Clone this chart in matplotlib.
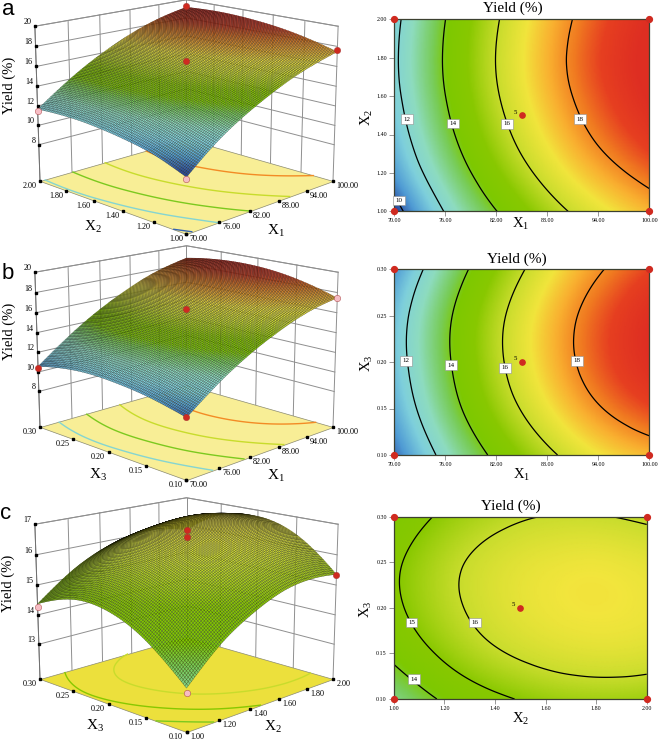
import numpy as np
import matplotlib
matplotlib.use("Agg")
import matplotlib.pyplot as plt
from matplotlib.colors import LinearSegmentedColormap, Normalize
from matplotlib.tri import Triangulation, CubicTriInterpolator
from mpl_toolkits.mplot3d import proj3d
from mpl_toolkits.mplot3d.art3d import Poly3DCollection

plt.rcParams['font.family'] = ['Liberation Serif', 'DejaVu Serif']
plt.rcParams['mathtext.fontset'] = 'custom'
plt.rcParams['mathtext.rm'] = 'Liberation Serif'
plt.rcParams['mathtext.default'] = 'rm'

W, H = 658, 741
X1_TICKS = [70, 76, 82, 88, 94, 100]
X2_TICKS = [1.0, 1.2, 1.4, 1.6, 1.8, 2.0]
X3_TICKS = [0.10, 0.15, 0.20, 0.25, 0.30]

# yield at the tick crossings (rows: y axis, columns: x axis)
YIELD_A = [
    [9.50, 12.06, 13.97, 15.48, 16.63, 17.47],
    [10.64, 12.96, 14.87, 16.38, 17.53, 18.32],
    [11.28, 13.60, 15.51, 17.02, 18.15, 18.90],
    [11.66, 13.98, 15.89, 17.40, 18.50, 19.22],
    [11.79, 14.11, 16.02, 17.53, 18.63, 19.32],
    [11.66, 13.98, 15.89, 17.40, 18.50, 19.19],
]
YIELD_B = [
    [10.08, 12.39, 14.28, 15.74, 16.84, 17.46],
    [10.93, 13.30, 15.26, 16.78, 17.92, 18.60],
    [11.34, 13.74, 15.73, 17.29, 18.44, 19.15],
    [11.27, 13.69, 15.68, 17.25, 18.41, 19.14],
    [10.56, 13.00, 15.04, 16.66, 17.89, 18.66],
]
YIELD_C = [
    [13.15, 14.13, 14.80, 15.25, 15.42, 15.35],
    [14.22, 15.17, 15.88, 16.31, 16.49, 16.41],
    [14.80, 15.71, 16.37, 16.77, 16.91, 16.79],
    [14.84, 15.71, 16.33, 16.68, 16.79, 16.62],
    [14.37, 15.17, 15.72, 16.02, 16.05, 15.84],
]
Z_TICKS_AB = [8, 10, 12, 14, 16, 18, 20]
Z_TICKS_C = [13, 14, 15, 16, 17]
LEVELS_A = [10, 12, 14, 16, 18]
LEVELS_B = [12, 14, 16, 18]
LEVELS_C = [14, 15, 16]

# design points: x, y, yield, colour key
POINTS_A = [(100, 2.0, 19.3, 'r'), (85, 1.5, 16.5, 'r'), (100, 1.0, 17.6, 'r'),
            (70, 2.0, 11.5, 'p'), (70, 1.0, 9.3, 'p')]
POINTS_B = [(85, 0.20, 16.4, 'r'), (100, 0.10, 17.5, 'p'),
            (70, 0.30, 10.4, 'r'), (70, 0.10, 10.1, 'r')]
POINTS_C = [(1.5, 0.20, 16.8, 'r'), (1.5, 0.20, 16.6, 'r'), (2.0, 0.10, 15.35, 'r'),
            (1.0, 0.30, 14.25, 'p'), (1.0, 0.10, 13.0, 'p')]

STOP_Z = [9.7, 10.6, 11.6, 12.6, 13.6, 14.2, 15.0, 16.0, 16.9, 17.6, 18.2, 18.7, 19.2]
STOP_C = ['#2a4a9e', '#4f9ad4', '#7fd0dc', '#8edcc0', '#78cc58', '#7ec800', '#88c800',
          '#c8dc2c', '#f2e53c', '#f9b030', '#f07a20', '#e63f20', '#de2e22']
Z_MIN, Z_MAX = STOP_Z[0], STOP_Z[-1]
norm = Normalize(Z_MIN, Z_MAX)
cmap = LinearSegmentedColormap.from_list(
    'yield', [((z - Z_MIN) / (Z_MAX - Z_MIN), c) for z, c in zip(STOP_Z, STOP_C)], N=512)

RED, PINK = '#cf2a20', '#f6bcc4'
GRID = '#8f8f8f'
ELEV, FOCAL, BOXZ = 15.0, 0.68, 0.76
MESH = 101

fig = plt.figure(figsize=(W / 100, H / 100), dpi=100)


def px(x, y):
    return x / W, 1 - y / H


def ftext(x, y, s, **kw):
    kw.setdefault('ha', 'center')
    kw.setdefault('va', 'center')
    fig.text(*px(x, y), s, **kw)


def smooth(xv, yv, Z, n):
    X, Y = np.meshgrid(xv, yv)
    tri = Triangulation(X.ravel(), Y.ravel())
    it = CubicTriInterpolator(tri, np.asarray(Z, float).ravel(), kind='min_E')
    ex = (xv[-1] - xv[0]) * 1e-7
    ey = (yv[-1] - yv[0]) * 1e-7
    xf = np.linspace(xv[0] + ex, xv[-1] - ex, n)
    yf = np.linspace(yv[0] + ey, yv[-1] - ey, n)
    Xf, Yf = np.meshgrid(xf, yf)
    return Xf, Yf, np.ma.filled(it(Xf, Yf), np.nan)


def surface3d(xv, yv, Z, zfloor, ztop, zticks, levels, points, floor_color, left, right,
              edge_alpha=0.72):
    ax = fig.add_axes([0, 0, 0.5, 0.5], projection='3d', computed_zorder=False)
    ax.set_facecolor('none')
    ax.set_axis_off()
    x0, x1, y0, y1 = xv[0], xv[-1], yv[0], yv[-1]
    ax.set_xlim(x0, x1)
    ax.set_ylim(y0, y1)
    ax.set_zlim(zfloor, ztop)
    ax.set_proj_type('persp', focal_length=FOCAL)
    ax.view_init(elev=ELEV, azim=-135)
    ax.set_box_aspect((1, 1, BOXZ))

    # place the box on the page from its floor corners
    M = ax.get_proj()

    def proj(x, y, z):
        a, b, _ = proj3d.proj_transform(x, y, z, M)
        return np.array([a, b])
    pl, pr = proj(x0, y1, zfloor), proj(x1, y0, zfloor)
    xlim2 = ax.viewLim.intervalx
    ylim2 = ax.viewLim.intervaly
    scale = (right[0] - left[0]) / (pr[0] - pl[0])
    size = scale * (xlim2[1] - xlim2[0])
    ox = left[0] - (pl[0] - xlim2[0]) * scale
    oy = (H - left[1]) - (pl[1] - ylim2[0]) * scale
    ax.set_position([ox / W, oy / H, size / W, size / H])

    def to_px(x, y, z):
        p = proj(x, y, z)
        return ox + (p[0] - xlim2[0]) * scale, H - (oy + (p[1] - ylim2[0]) * scale)

    # walls
    wl = dict(color=GRID, lw=0.7, zorder=1)
    for t in xv:
        ax.plot([t, t], [y1, y1], [zfloor, ztop], **wl)
    for t in yv:
        ax.plot([x1, x1], [t, t], [zfloor, ztop], **wl)
    for z in zticks:
        ax.plot([x0, x1, x1], [y1, y1, y0], [z, z, z], **wl)
    ax.plot([x0, x1, x1], [y1, y1, y0], [ztop] * 3, **wl)
    ax.plot([x0, x0], [y1, y1], [zfloor, ztop], color='#707070', lw=0.7, zorder=1)

    # floor
    floor = Poly3DCollection([[(x0, y0, zfloor), (x1, y0, zfloor), (x1, y1, zfloor), (x0, y1, zfloor)]],
                             facecolors=floor_color, edgecolors='#8a8a70', linewidths=0.5, zorder=2)
    ax.add_collection3d(floor)

    Xf, Yf, Zf = smooth(xv, yv, Z, MESH)
    ax.contour(Xf, Yf, Zf, levels=levels, zdir='z', offset=zfloor, cmap=cmap, norm=norm,
               linewidths=1.0, zorder=3)

    surf = ax.plot_surface(Xf, Yf, Zf, rstride=1, cstride=1, facecolors=cmap(norm(Zf)),
                           shade=False, zorder=5)
    surf.set_edgecolor((0, 0, 0, edge_alpha))
    surf.set_linewidth(0.18)

    # ticks
    ax.plot(list(xv), [y0] * len(xv), [zfloor] * len(xv), ls='', marker='s', ms=1.5, color='k', zorder=4)
    ax.plot([x0] * len(yv), list(yv), [zfloor] * len(yv), ls='', marker='s', ms=1.5, color='k', zorder=4)
    ax.plot([x0] * len(zticks), [y1] * len(zticks), zticks, ls='', marker='s', ms=1.5, color='k', zorder=4)
    for t in xv:
        a, b = to_px(t, y0, zfloor)
        ftext(a + 3.5, b + 5, f'{t:.2f}', fontsize=5.9, ha='left')
    for t in yv:
        a, b = to_px(x0, t, zfloor)
        ftext(a - 3.5, b + 5, f'{t:.2f}', fontsize=5.9, ha='right')
    for z in zticks:
        a, b = to_px(x0, y1, z)
        ftext(a - 3.5, b - 4, f'{z}', fontsize=5.9, ha='right')

    for x, y, z, k in points:
        ax.plot([x], [y], [z], ls='', marker='o', ms=4.6, mfc=RED if k == 'r' else PINK,
                mec='#a03030', mew=0.3, zorder=8)
    return ax


def contour2d(rect, xv, yv, Z, levels, labels, xlabel, ylabel, title_xy, xlabel_xy, ylabel_xy):
    l, t, r, b = rect
    ax = fig.add_axes([l / W, 1 - b / H, (r - l) / W, (b - t) / H])
    Xf, Yf, Zf = smooth(xv, yv, Z, 201)
    ax.pcolormesh(Xf, Yf, Zf, cmap=cmap, norm=norm, shading='gouraud', rasterized=True)
    ax.contour(Xf, Yf, Zf, levels=levels, colors='k', linewidths=0.9)
    ax.set_xlim(xv[0], xv[-1])
    ax.set_ylim(yv[0], yv[-1])
    ax.set_xticks(xv, [f'{t:.2f}' for t in xv])
    ax.set_yticks(yv, [f'{t:.2f}' for t in yv])
    ax.tick_params(labelsize=4.3, length=3.5, width=0.5, color='#707070', pad=1.5)
    for s in ax.spines.values():
        s.set_color('#3c4030')
        s.set_linewidth(0.9)
    for x, y, s in labels:
        ax.text(x, y, s, fontsize=5, ha='center', va='center', zorder=6,
                bbox=dict(boxstyle='square,pad=0.35', fc='white', ec='#909090', lw=0.4))
    for x in (xv[0], xv[-1]):
        for y in (yv[0], yv[-1]):
            ax.plot([x], [y], marker='o', ms=4.2, color=RED, clip_on=False, zorder=7)
    cx, cy = (xv[0] + xv[-1]) / 2, (yv[0] + yv[-1]) / 2
    ax.plot([cx], [cy], marker='o', ms=3.8, color=RED, zorder=7)
    ax.annotate('5', (cx, cy), xytext=(-3.5, 0.5), textcoords='offset points', fontsize=5,
                ha='right', va='bottom', zorder=7)
    ftext(*title_xy, 'Yield (%)', fontsize=11)
    ftext(*xlabel_xy, xlabel, fontsize=10.5)
    ftext(*ylabel_xy, ylabel, fontsize=10.5, rotation=90)
    return ax


surface3d(X1_TICKS, X2_TICKS, YIELD_A, 4.2, 20, Z_TICKS_AB, LEVELS_A, POINTS_A, '#f8ee96',
          (40, 181), (333, 181))
surface3d(X1_TICKS, X3_TICKS, YIELD_B, 4.3, 20, Z_TICKS_AB, LEVELS_B, POINTS_B, '#f8ee96',
          (40, 427), (333, 427))
surface3d(X2_TICKS, X3_TICKS, YIELD_C, 11.8, 17, Z_TICKS_C, LEVELS_C, POINTS_C, '#ece03c',
          (40, 679), (333, 679))

contour2d((394, 19.3, 649.3, 211.3), X1_TICKS, X2_TICKS, YIELD_A, LEVELS_A,
          [(71.5, 1.48, '12'), (76.97, 1.457, '14'), (83.3, 1.455, '16'), (91.9, 1.48, '18'), (70.6, 1.056, '10')],
          'X$_{1}$', 'X$_{2}$', (513, 8), (521, 224), (367, 117))
contour2d((394, 269, 649.3, 455), X1_TICKS, X3_TICKS, YIELD_B, LEVELS_B,
          [(71.37, 0.2014, '12'), (76.66, 0.1964, '14'), (83.04, 0.1939, '16'), (91.54, 0.2014, '18')],
          'X$_{1}$', 'X$_{3}$', (517, 259), (522, 475), (367, 363))
contour2d((393.7, 516.7, 646.7, 699), X2_TICKS, X3_TICKS, YIELD_C, LEVELS_C,
          [(1.07, 0.184, '15'), (1.32, 0.184, '16'), (1.08, 0.1216, '14')],
          'X$_{2}$', 'X$_{3}$', (511, 506), (521, 719), (366, 609))

for x, y in [(9, 85), (9, 331), (8, 583)]:
    ftext(x, y, 'Yield (%)', fontsize=10.5, rotation=90)
for x, y, s in [(93, 227, 'X$_{2}$'), (276, 231, 'X$_{1}$'), (98, 475, 'X$_{3}$'), (276, 476, 'X$_{1}$'),
                (95, 726, 'X$_{3}$'), (273, 727, 'X$_{2}$')]:
    ftext(x, y, s, fontsize=11)
for x, y, s in [(8, 15, 'a'), (8, 279, 'b'), (6, 519, 'c')]:
    ftext(x, y, s, fontsize=16, family=['Liberation Sans'], va='baseline')

fig.savefig('out.png', dpi=100)
